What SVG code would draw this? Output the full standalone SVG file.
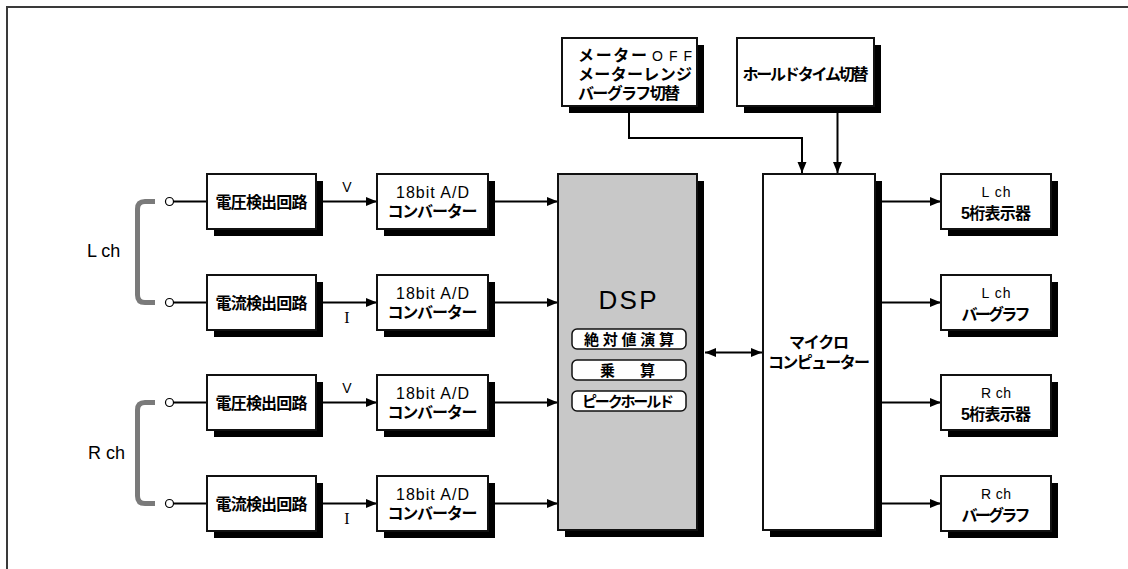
<svg xmlns="http://www.w3.org/2000/svg" width="1128" height="569" viewBox="0 0 1128 569">
<style>
.box{fill:#fff;stroke:#111;stroke-width:2}
.sh{fill:#000}
.jp{font-family:"Liberation Sans","Noto Sans CJK JP",sans-serif;font-weight:bold;font-size:16px;fill:#000;text-anchor:middle}
.lat{font-family:"Liberation Sans",Arial,sans-serif;font-size:16px;font-weight:normal;fill:#000;text-anchor:middle}
.ln{fill:none;stroke:#000;stroke-width:2}
.br{fill:none;stroke:#7a7a7a;stroke-width:5}
.pill{fill:#fff;stroke:#111;stroke-width:1.5}
</style>
<defs>
<marker id="ah" markerUnits="userSpaceOnUse" markerWidth="12" markerHeight="10" refX="11" refY="4.5" orient="auto-start-reverse">
<path d="M0,0 L11,4.5 L0,9 z" fill="#000"/>
</marker>
</defs>
<rect width="1128" height="569" fill="#fff"/>
<path d="M7,569 V7 H1128" fill="none" stroke="#3a3a3a" stroke-width="2"/>

<g id="labels">
<text class="lat" x="87" y="257" style="text-anchor:start;font-size:18px">L ch</text>
<text class="lat" x="88" y="459" style="text-anchor:start;font-size:18px">R ch</text>
<path class="br" d="M155,201.5 H145 Q137.5,201.5 137.5,209 V295 Q137.5,302.5 145,302.5 H155"/>
<path class="br" d="M155,402.5 H145 Q137.5,402.5 137.5,410 V496 Q137.5,503.5 145,503.5 H155"/>
<text class="lat" x="347" y="192" style="font-size:14px">V</text>
<text x="347" y="323" style="font-family:'Liberation Serif',serif;font-size:16px;text-anchor:middle">I</text>
<text class="lat" x="347" y="393" style="font-size:14px">V</text>
<text x="347" y="524" style="font-family:'Liberation Serif',serif;font-size:16px;text-anchor:middle">I</text>
</g>

<g id="connectors">
<circle cx="169.5" cy="201.5" r="4" fill="#fff" stroke="#000" stroke-width="1.2"/>
<circle cx="169.5" cy="302.5" r="4" fill="#fff" stroke="#000" stroke-width="1.2"/>
<circle cx="169.5" cy="402.5" r="4" fill="#fff" stroke="#000" stroke-width="1.2"/>
<circle cx="169.5" cy="503.5" r="4" fill="#fff" stroke="#000" stroke-width="1.2"/>
<path class="ln" d="M173.5,201.5 H207 M173.5,302.5 H207 M173.5,402.5 H207 M173.5,503.5 H207"/>
<path class="ln" marker-end="url(#ah)" d="M316,201.5 H377"/>
<path class="ln" marker-end="url(#ah)" d="M316,302.5 H377"/>
<path class="ln" marker-end="url(#ah)" d="M316,402.5 H377"/>
<path class="ln" marker-end="url(#ah)" d="M316,503.5 H377"/>
<path class="ln" marker-end="url(#ah)" d="M488,201.5 H558"/>
<path class="ln" marker-end="url(#ah)" d="M488,302.5 H558"/>
<path class="ln" marker-end="url(#ah)" d="M488,402.5 H558"/>
<path class="ln" marker-end="url(#ah)" d="M488,503.5 H558"/>
<path class="ln" marker-start="url(#ah)" marker-end="url(#ah)" d="M705,352.5 H762"/>
<path class="ln" marker-end="url(#ah)" d="M629,106 V138 H802 V173"/>
<path class="ln" marker-end="url(#ah)" d="M837.5,106 V173"/>
<path class="ln" marker-end="url(#ah)" d="M875,201.5 H941"/>
<path class="ln" marker-end="url(#ah)" d="M875,302.5 H941"/>
<path class="ln" marker-end="url(#ah)" d="M875,402.5 H941"/>
<path class="ln" marker-end="url(#ah)" d="M875,503.5 H941"/>
</g>

<g id="lv-detect"><rect class="sh" x="214" y="181" width="109" height="55"/><rect class="box" x="207" y="174" width="109" height="55"/><text class="jp" x="261.5" y="208" textLength="92">電圧検出回路</text></g>
<g id="li-detect"><rect class="sh" x="214" y="282" width="109" height="55"/><rect class="box" x="207" y="275" width="109" height="55"/><text class="jp" x="261.5" y="309" textLength="92">電流検出回路</text></g>
<g id="rv-detect"><rect class="sh" x="214" y="382" width="109" height="55"/><rect class="box" x="207" y="375" width="109" height="55"/><text class="jp" x="261.5" y="409" textLength="92">電圧検出回路</text></g>
<g id="ri-detect"><rect class="sh" x="214" y="483" width="109" height="55"/><rect class="box" x="207" y="476" width="109" height="55"/><text class="jp" x="261.5" y="510" textLength="92">電流検出回路</text></g>

<g id="ad1"><rect class="sh" x="384" y="181" width="111" height="55"/><rect class="box" x="377" y="174" width="111" height="55"/><text class="jp"><tspan class="lat" x="432.5" y="198" textLength="73">18bit A/D</tspan><tspan x="432.5" y="217" textLength="90">コンバーター</tspan></text></g>
<g id="ad2"><rect class="sh" x="384" y="282" width="111" height="55"/><rect class="box" x="377" y="275" width="111" height="55"/><text class="jp"><tspan class="lat" x="432.5" y="299" textLength="73">18bit A/D</tspan><tspan x="432.5" y="318" textLength="90">コンバーター</tspan></text></g>
<g id="ad3"><rect class="sh" x="384" y="382" width="111" height="55"/><rect class="box" x="377" y="375" width="111" height="55"/><text class="jp"><tspan class="lat" x="432.5" y="399" textLength="73">18bit A/D</tspan><tspan x="432.5" y="418" textLength="90">コンバーター</tspan></text></g>
<g id="ad4"><rect class="sh" x="384" y="483" width="111" height="55"/><rect class="box" x="377" y="476" width="111" height="55"/><text class="jp"><tspan class="lat" x="432.5" y="500" textLength="73">18bit A/D</tspan><tspan x="432.5" y="519" textLength="90">コンバーター</tspan></text></g>

<g id="dsp">
<rect class="sh" x="565" y="181" width="139" height="356"/>
<rect x="558" y="174" width="139" height="356" fill="#c8c8c8" stroke="#111" stroke-width="2"/>
<text class="lat" x="627.5" y="309" style="font-size:26px" textLength="58">DSP</text>
<rect class="pill" x="572" y="329" width="114" height="20" rx="5"/>
<text class="jp" x="629" y="344.5" style="font-size:15px" textLength="90">絶対値演算</text>
<rect class="pill" x="572" y="360" width="114" height="20" rx="5"/>
<text class="jp" x="627.5" y="375.5" style="font-size:15px" textLength="55">乗算</text>
<rect class="pill" x="572" y="391" width="114" height="20" rx="5"/>
<text class="jp" x="628" y="406.5" style="font-size:15px" textLength="92">ピークホールド</text>
</g>

<g id="micro">
<rect class="sh" x="770" y="181" width="112" height="356"/>
<rect class="box" x="763" y="174" width="112" height="356"/>
<text class="jp"><tspan x="819" y="348" textLength="60">マイクロ</tspan><tspan x="819" y="368" textLength="102">コンピューター</tspan></text>
</g>

<g id="meter-switch">
<rect class="sh" x="569" y="45" width="135" height="68"/>
<rect class="box" x="562" y="38" width="135" height="68"/>
<text class="jp" style="text-anchor:start"><tspan x="578" y="61" textLength="69">メーター</tspan><tspan class="lat" x="652" y="61" style="text-anchor:start;font-size:14px" textLength="40">OFF</tspan><tspan x="578" y="80" textLength="114">メーターレンジ</tspan><tspan x="578" y="99" textLength="102">バーグラフ切替</tspan></text>
</g>

<g id="hold-switch">
<rect class="sh" x="744" y="45" width="137" height="68"/>
<rect class="box" x="737" y="38" width="137" height="68"/>
<text class="jp" x="805.5" y="80" textLength="126">ホールドタイム切替</text>
</g>

<g id="l-digits"><rect class="sh" x="948" y="181" width="110" height="55"/><rect class="box" x="941" y="174" width="110" height="55"/><text class="jp"><tspan class="lat" x="996" y="197" style="font-size:14px" textLength="29">L ch</tspan><tspan x="996" y="218.5" textLength="70">5桁表示器</tspan></text></g>
<g id="l-bar"><rect class="sh" x="948" y="282" width="110" height="55"/><rect class="box" x="941" y="275" width="110" height="55"/><text class="jp"><tspan class="lat" x="996" y="298" style="font-size:14px" textLength="29">L ch</tspan><tspan x="996" y="319.5" textLength="69">バーグラフ</tspan></text></g>
<g id="r-digits"><rect class="sh" x="948" y="382" width="110" height="55"/><rect class="box" x="941" y="375" width="110" height="55"/><text class="jp"><tspan class="lat" x="996" y="398" style="font-size:14px" textLength="30">R ch</tspan><tspan x="996" y="419.5" textLength="70">5桁表示器</tspan></text></g>
<g id="r-bar"><rect class="sh" x="948" y="483" width="110" height="55"/><rect class="box" x="941" y="476" width="110" height="55"/><text class="jp"><tspan class="lat" x="996" y="499" style="font-size:14px" textLength="30">R ch</tspan><tspan x="996" y="520.5" textLength="69">バーグラフ</tspan></text></g>
</svg>
